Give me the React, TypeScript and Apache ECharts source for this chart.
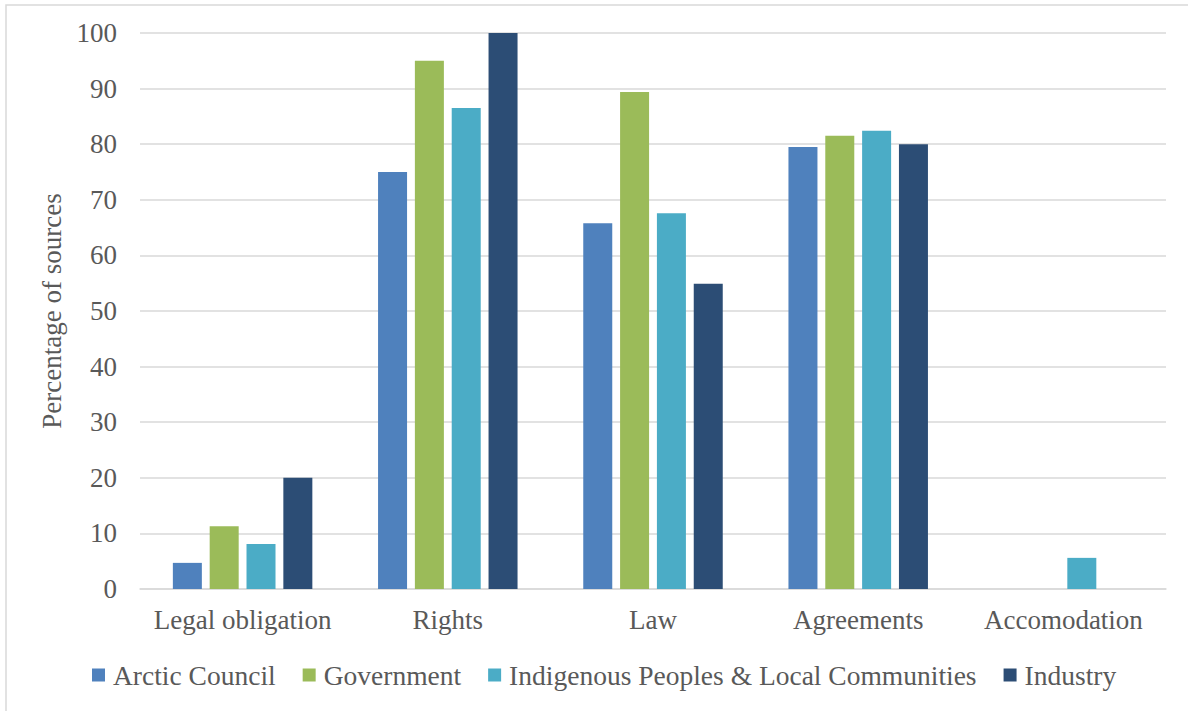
import React, { useEffect, useRef } from "react";
import * as echarts from "echarts";

const categories = ["Legal obligation", "Rights", "Law", "Agreements", "Accomodation"];
const seriesNames = ["Arctic Council", "Government", "Indigenous Peoples & Local Communities", "Industry"];
const arcticCouncil = [4.7, 75.0, 65.8, 79.5, 0];
const government = [11.3, 95.0, 89.4, 81.5, 0];
const indigenous = [8.1, 86.5, 67.6, 82.4, 5.6];
const industry = [20.0, 100, 54.9, 80.0, 0];
const colors = ["#4f81bd", "#9bbb59", "#4bacc6", "#2c4d75"];

const FONT = "'Liberation Serif', 'Times New Roman', serif";
const TEXT = "#595959";
const FS = 27;

export default function App() {
  const ref = useRef<HTMLDivElement>(null);
  useEffect(() => {
    const chart = echarts.init(ref.current!, null, { renderer: "svg" });
    const data = [arcticCouncil, government, indigenous, industry];
    chart.setOption({
      animation: false,
      backgroundColor: "#ffffff",
      textStyle: { fontFamily: FONT },
      graphic: [
        {
          type: "rect",
          shape: { x: 6, y: 5, width: 1300, height: 800 },
          style: { fill: "none", stroke: "#d9d9d9", lineWidth: 1.5 },
          silent: true,
          z: -10,
        },
      ],
      grid: { left: 140, right: 22, top: 33, bottom: 122, containLabel: false },
      legend: {
        left: 87,
        top: 656,
        itemWidth: 13,
        itemHeight: 13,
        itemGap: 27,
        icon: "rect",
        textStyle: { fontFamily: FONT, fontSize: 27.5, color: TEXT, padding: [0, 0, 0, 3] },
        data: seriesNames,
      },
      xAxis: {
        type: "category",
        data: categories,
        axisLine: { lineStyle: { color: "#d9d9d9", width: 1.5 } },
        axisTick: { show: false },
        axisLabel: { fontFamily: FONT, fontSize: FS, color: TEXT, margin: 17, interval: 0 },
      },
      yAxis: {
        type: "value",
        min: 0,
        max: 100,
        interval: 10,
        name: "Percentage of sources",
        nameLocation: "middle",
        nameGap: 68,
        nameTextStyle: { fontFamily: FONT, fontSize: FS, color: TEXT },
        axisLine: { show: false },
        axisTick: { show: false },
        axisLabel: { fontFamily: FONT, fontSize: FS, color: TEXT, margin: 23 },
        splitLine: { lineStyle: { color: "#d9d9d9", width: 1.5 } },
      },
      series: seriesNames.map((name, i) => ({
        name,
        type: "bar",
        data: data[i],
        barWidth: 29,
        barGap: "27%",
        itemStyle: { color: colors[i] },
      })),
    });
    return () => chart.dispose();
  }, []);
  return (
    <div
      ref={ref}
      style={{ position: "fixed", left: 0, top: 0, width: 1188, height: 711 }}
    />
  );
}
